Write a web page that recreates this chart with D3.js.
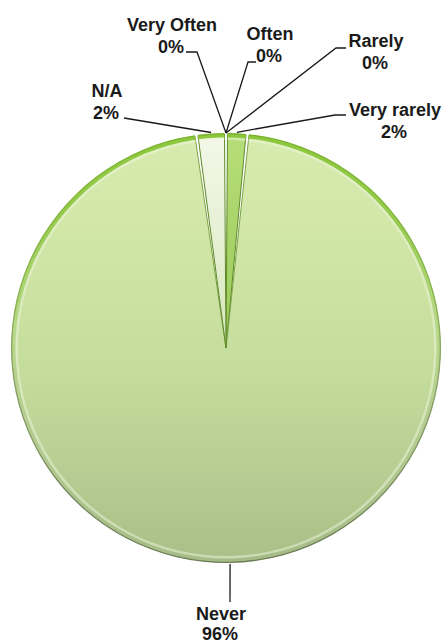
<!DOCTYPE html>
<html>
<head>
<meta charset="utf-8">
<script src="https://cdn.jsdelivr.net/npm/d3@7"></script>
<style>
  html, body { margin: 0; padding: 0; background: #ffffff; }
  svg { display: block; }
</style>
</head>
<body>
<svg id="chart" width="448" height="643"></svg>
<script>
// ---- data ----
const categories = ["Very Often", "Often", "Rarely", "Very rarely", "Never", "N/A"];
const values     = [0, 0, 0, 1.6, 96.2, 2.2];
const valueLabels = ["0%", "0%", "0%", "2%", "96%", "2%"];

// ---- layout (positions only) ----
const W = 448, H = 643;
const cx = 226, cy = 348, R = 214;
// label text centre x, first baseline y, leader start point, elbow point
const labelLayout = {
  "Very Often":  { x: 172, y: 31,  dy: 22, pts: [[186, 52], [197, 52]] },
  "Often":       { x: 270, y: 40,  dy: 22, pts: [[256, 62], [248, 62]] },
  "Rarely":      { x: 376, y: 47,  dy: 22, pts: [[346, 48], [336, 48]] },
  "Very rarely": { x: 395, y: 116, dy: 22, pts: [[346, 115], [335, 115]] },
  "Never":       { x: 221, y: 620, dy: 20, pts: [[230, 602]] },
  "N/A":         { x: 107, y: 97,  dy: 22, pts: [[124, 118]] }
};

const svg = d3.select("#chart");
const defs = svg.append("defs");

// gradients in the pie group's coordinate system (centre at 0,0)
function vGrad(id, stops) {
  const g = defs.append("linearGradient").attr("id", id)
    .attr("gradientUnits", "userSpaceOnUse")
    .attr("x1", 0).attr("y1", -R).attr("x2", 0).attr("y2", R);
  stops.forEach(s => g.append("stop").attr("offset", s[0]).attr("stop-color", s[1]));
  return `url(#${id})`;
}

const fills = {
  "Never": vGrad("gNever", [[0, "#d8ebb0"], [0.25, "#d0e6a6"], [0.55, "#c4dc9c"], [0.8, "#b5cd92"], [1, "#a8bf87"]]),
  "N/A": vGrad("gNA", [[0, "#f3f8e8"], [0.3, "#e2eecf"], [0.6, "#cfe3ad"], [1, "#c3d99f"]]),
  "Very rarely": vGrad("gVR", [[0, "#b6de78"], [0.3, "#a5d165"], [0.6, "#98c658"], [1, "#8fbf50"]]),
  "Very Often": "#9fd25a", "Often": "#9fd25a", "Rarely": "#9fd25a"
};
const rimGrad = vGrad("gRim", [[0, "#8cc83c"], [0.2, "#95cb4c"], [0.45, "#b8d98a"], [0.7, "#b4cb92"], [1, "#a6bc88"]]);
const edgeGrad = vGrad("gEdge", [[0, "#7bb42c"], [0.35, "#8ab54a"], [0.6, "#8c9f6c"], [1, "#6d7d58"]]);

const data = categories.map((c, i) => ({ cat: c, value: values[i], label: valueLabels[i] }));

const pie = d3.pie().sort(null).value(d => d.value).startAngle(0).endAngle(2 * Math.PI);
const arcs = pie(data);
const shown = arcs.filter(a => a.data.value > 0);

const g = svg.append("g").attr("transform", `translate(${cx},${cy})`);

const PAD = 0.014;
const arcGen = d3.arc().innerRadius(0).outerRadius(R).padAngle(PAD).padRadius(R);

// slices
g.selectAll("path.slice")
  .data(shown)
  .join("path")
  .attr("class", "slice")
  .attr("d", arcGen)
  .attr("fill", d => fills[d.data.cat])
  .attr("stroke", d => d.data.cat === "Never" ? "#6f9a38" : "#5e8a28")
  .attr("stroke-width", d => d.data.cat === "Never" ? 0.9 : 1)
  .attr("stroke-linejoin", "round");

// outer rim (bevel)
const rimArc = d3.arc().innerRadius(R - 3.5).outerRadius(R).padAngle(PAD).padRadius(R);
g.selectAll("path.rim")
  .data(shown)
  .join("path")
  .attr("class", "rim")
  .attr("d", rimArc)
  .attr("fill", rimGrad);

// inner highlight just inside rim
const hiArc = d3.arc().innerRadius(R - 6).outerRadius(R - 3.5).padAngle(PAD).padRadius(R);
g.selectAll("path.hi")
  .data(shown)
  .join("path")
  .attr("class", "hi")
  .attr("d", hiArc)
  .attr("fill", "#eef6dc")
  .attr("opacity", 0.5);

// outer edge line
const edgeArc = d3.arc().innerRadius(R - 0.3).outerRadius(R + 1).padAngle(PAD).padRadius(R);
g.selectAll("path.edge")
  .data(shown)
  .join("path")
  .attr("class", "edge")
  .attr("d", edgeArc)
  .attr("fill", edgeGrad);

// leader lines
const pointOnPie = (a, r) => {
  const ang = (a.startAngle + a.endAngle) / 2;
  return [cx + r * Math.sin(ang), cy - r * Math.cos(ang)];
};
const lineGen = d3.line();
svg.selectAll("path.leader")
  .data(arcs)
  .join("path")
  .attr("class", "leader")
  .attr("d", a => {
    const L = labelLayout[a.data.cat];
    const end = pointOnPie(a, a.data.value > 0 ? R + 2 : R + 1);
    return lineGen([...L.pts, end]);
  })
  .attr("fill", "none")
  .attr("stroke", "#1a1a1a")
  .attr("stroke-width", 1.3);

// labels
const lbl = svg.selectAll("text.lbl")
  .data(arcs)
  .join("text")
  .attr("class", "lbl")
  .attr("text-anchor", "middle")
  .attr("font-family", "'Liberation Sans', Arial, sans-serif")
  .attr("font-weight", "bold")
  .attr("font-size", 18)
  .attr("fill", "#1a1a1a");
lbl.append("tspan")
  .attr("x", a => labelLayout[a.data.cat].x)
  .attr("y", a => labelLayout[a.data.cat].y)
  .text(a => a.data.cat);
lbl.append("tspan")
  .attr("x", a => labelLayout[a.data.cat].x - 1)
  .attr("dy", a => labelLayout[a.data.cat].dy)
  .text(a => a.data.label);
</script>
</body>
</html>
